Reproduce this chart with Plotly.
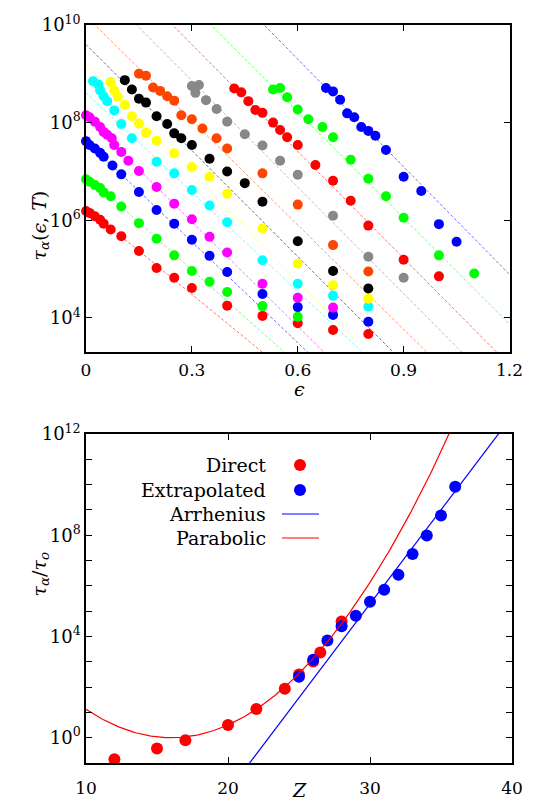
import numpy as np
import plotly.graph_objects as go

# ---------------- top panel data: (strain eps, log10 tau) per temperature series
COLORS = ["#ff0000", "#00ff00", "#0000ff", "#ff00ff", "#00ffff", "#ffff00",
          "#000000", "#ff4500", "#888888", "#ff0000", "#00ff00", "#0000ff"]

EPS_1 = [0, 0.01, 0.025, 0.04, 0.05, 0.07, 0.1, 0.15, 0.2, 0.25, 0.3, 0.4, 0.5, 0.6, 0.7, 0.8]
LOG_1 = [6.19, 6.15, 6.08, 6.01, 5.93, 5.81, 5.67, 5.37, 5.02, 4.82, 4.61, 4.25, 4.04, 3.89, 3.75, 3.67]
EPS_2 = [0, 0.01, 0.025, 0.04, 0.05, 0.07, 0.1, 0.15, 0.2, 0.25, 0.3, 0.35, 0.4, 0.5, 0.6]
LOG_2 = [6.84, 6.79, 6.72, 6.66, 6.57, 6.49, 6.28, 5.94, 5.62, 5.28, 4.96, 4.74, 4.53, 4.24, 4.02]
EPS_3 = [0, 0.01, 0.025, 0.04, 0.05, 0.075, 0.1, 0.15, 0.2, 0.25, 0.3, 0.35, 0.4, 0.5, 0.6, 0.7, 0.8]
LOG_3 = [7.62, 7.54, 7.47, 7.38, 7.30, 7.12, 6.94, 6.58, 6.21, 5.93, 5.60, 5.27, 4.94, 4.49, 4.22, 4.06, 3.92]
EPS_4 = [0, 0.01, 0.025, 0.04, 0.05, 0.06, 0.073, 0.08, 0.1, 0.12, 0.15, 0.2, 0.25, 0.3, 0.35, 0.4, 0.5, 0.6, 0.7]
LOG_4 = [8.15, 8.11, 8.02, 7.91, 7.81, 7.75, 7.68, 7.54, 7.40, 7.22, 7.01, 6.68, 6.34, 6.02, 5.66, 5.34, 4.70, 4.41, 4.21]
EPS_5 = [0.02, 0.035, 0.04, 0.05, 0.06, 0.08, 0.1, 0.13, 0.2, 0.25, 0.3, 0.35, 0.4, 0.5, 0.6, 0.7, 0.8]
LOG_5 = [8.85, 8.78, 8.66, 8.54, 8.44, 8.25, 7.97, 7.68, 7.20, 6.96, 6.62, 6.30, 5.96, 5.18, 4.70, 4.45, 4.23]
EPS_6 = [0.07, 0.08, 0.09, 0.11, 0.13, 0.15, 0.17, 0.2, 0.25, 0.3, 0.35, 0.4, 0.5, 0.6, 0.7, 0.8]
LOG_6 = [8.83, 8.66, 8.53, 8.36, 8.13, 7.98, 7.79, 7.63, 7.37, 7.09, 6.89, 6.54, 5.83, 5.11, 4.67, 4.39]
EPS_7 = [0.11, 0.13, 0.15, 0.17, 0.2, 0.23, 0.25, 0.27, 0.3, 0.35, 0.4, 0.45, 0.5, 0.6, 0.7, 0.8]
LOG_7 = [8.87, 8.68, 8.49, 8.41, 8.13, 7.97, 7.78, 7.68, 7.54, 7.26, 7.00, 6.76, 6.38, 5.57, 4.96, 4.60]
EPS_8 = [0.15, 0.17, 0.19, 0.21, 0.23, 0.25, 0.27, 0.3, 0.33, 0.37, 0.4, 0.5, 0.6, 0.7, 0.8]
LOG_8 = [9.00, 8.96, 8.72, 8.65, 8.54, 8.45, 8.15, 8.07, 7.88, 7.68, 7.47, 6.96, 6.32, 5.49, 4.95]
EPS_9 = [0.3, 0.31, 0.32, 0.34, 0.37, 0.4, 0.45, 0.5, 0.55, 0.6, 0.7, 0.8, 0.9]
LOG_9 = [8.75, 8.61, 8.77, 8.46, 8.28, 8.02, 7.76, 7.53, 7.22, 6.93, 6.09, 5.25, 4.82]
EPS_10 = [0.42, 0.44, 0.46, 0.48, 0.5, 0.53, 0.55, 0.57, 0.6, 0.65, 0.7, 0.75, 0.8, 0.9, 1.0]
LOG_10 = [8.70, 8.62, 8.44, 8.26, 8.20, 8.00, 7.85, 7.70, 7.54, 7.13, 6.81, 6.40, 5.89, 5.19, 4.85]
EPS_11 = [0.53, 0.55, 0.57, 0.6, 0.63, 0.67, 0.7, 0.75, 0.8, 0.85, 0.9, 1.0, 1.1]
LOG_11 = [8.68, 8.71, 8.52, 8.27, 8.07, 7.91, 7.70, 7.24, 6.85, 6.49, 6.05, 5.28, 4.91]
EPS_12 = [0.68, 0.7, 0.72, 0.74, 0.76, 0.78, 0.8, 0.82, 0.85, 0.9, 0.95, 1.0, 1.05]
LOG_12 = [8.71, 8.64, 8.47, 8.19, 8.11, 7.91, 7.83, 7.73, 7.44, 6.89, 6.60, 5.92, 5.56]

EPS_SETS = [EPS_1, EPS_2, EPS_3, EPS_4, EPS_5, EPS_6, EPS_7, EPS_8, EPS_9, EPS_10, EPS_11, EPS_12]
LOG_SETS = [LOG_1, LOG_2, LOG_3, LOG_4, LOG_5, LOG_6, LOG_7, LOG_8, LOG_9, LOG_10, LOG_11, LOG_12]

# dashed fit lines: log10 tau = FIT_A - FIT_B * eps
FIT_A = [6.26, 6.92, 7.63, 8.11, 8.61, 9.19, 9.60, 10.18, 11.04, 11.79, 12.57, 13.71]
FIT_B = [5.93, 6.45, 6.90, 7.14, 6.78, 7.40, 7.24, 7.13, 7.27, 7.30, 7.25, 7.35]

# ---------------- bottom panel data
Z_DIRECT = [12, 15, 17, 20, 22, 24, 25, 26, 26.5, 28]
LOG_DIRECT = [-0.85, -0.43, -0.10, 0.50, 1.13, 1.93, 2.50, 3.01, 3.37, 4.59]
Z_EXTRAP = [25, 26, 27, 28, 29, 30, 31, 32, 33, 34, 35, 36]
LOG_EXTRAP = [2.41, 3.08, 3.84, 4.40, 4.82, 5.37, 5.85, 6.44, 7.26, 7.99, 8.78, 9.92]
ARR_SLOPE, ARR_Z0 = 0.742, 22.87          # log10 tau = ARR_SLOPE*(Z-ARR_Z0)
PAR_A, PAR_Z0 = 0.0313, 16.0              # log10 tau = PAR_A*(Z-PAR_Z0)^2

# ---------------- layout geometry (pixels)
W, H = 535, 809
L, R, T, B = 86, 23, 25, 46
PW, PH = W - L - R, H - T - B


def px(x):
    return (x - L) / PW


def py(y):
    return (H - B - y) / PH


SERIF = "DejaVu Serif"
FS = 17
FT = 19

fig = go.Figure()

eps_line = np.array([0.0, 1.2])
for a, b, c in zip(FIT_A, FIT_B, COLORS):
    fig.add_trace(go.Scatter(x=eps_line, y=10 ** (a - b * eps_line), mode="lines",
                             line=dict(color=c, width=1, dash="3px,2px"), opacity=0.55,
                             xaxis="x", yaxis="y", hoverinfo="skip"))
for e, lg, c in zip(EPS_SETS, LOG_SETS, COLORS):
    fig.add_trace(go.Scatter(x=e, y=10 ** np.array(lg), mode="markers",
                             marker=dict(color=c, size=10, line=dict(width=0)),
                             cliponaxis=False, xaxis="x", yaxis="y"))

fig.add_trace(go.Scatter(x=Z_DIRECT, y=10 ** np.array(LOG_DIRECT), mode="markers",
                         marker=dict(color="#ff0000", size=12, line=dict(width=0)),
                         cliponaxis=False, xaxis="x2", yaxis="y2"))
fig.add_trace(go.Scatter(x=Z_EXTRAP, y=10 ** np.array(LOG_EXTRAP), mode="markers",
                         marker=dict(color="#0000ff", size=12, line=dict(width=0)),
                         cliponaxis=False, xaxis="x2", yaxis="y2"))
zz = np.linspace(10, 40, 301)
fig.add_trace(go.Scatter(x=zz, y=10 ** (ARR_SLOPE * (zz - ARR_Z0)), mode="lines",
                         line=dict(color="#0000ff", width=1.2), xaxis="x2", yaxis="y2"))
fig.add_trace(go.Scatter(x=zz, y=10 ** (PAR_A * (zz - PAR_Z0) ** 2), mode="lines",
                         line=dict(color="#ff0000", width=1.2), xaxis="x2", yaxis="y2"))

axis_common = dict(showgrid=False, zeroline=False, showline=True, linecolor="black",
                   linewidth=1.5, mirror="ticks", ticks="inside", ticklen=6,
                   tickwidth=1, tickcolor="black", automargin=False,
                   tickfont=dict(family=SERIF, size=FS, color="black"))
ytick_font = dict(family=SERIF, size=FS + 1, color="black")

top_dom = [py(352), 1.0]
bot_dom = [0.0, py(434)]

ytop_vals = [1e4, 1e6, 1e8, 1e10]
ytop_text = ["10<sup>4</sup>", "10<sup>6</sup>", "10<sup>8</sup>", "10<sup>10</sup>"]
ybot_vals = [1e0, 1e4, 1e8, 1e12]
ybot_text = ["10<sup>0</sup>", "10<sup>4</sup>", "10<sup>8</sup>", "10<sup>12</sup>"]
ybot_minor = [10.0 ** k for k in range(-1, 13) if k % 4 != 0]

fig.update_layout(
    width=W, height=H, margin=dict(l=L, r=R, t=T, b=B),
    paper_bgcolor="white", plot_bgcolor="white", showlegend=False,
    xaxis=dict(axis_common, domain=[0, px(509.5)], range=[0, 1.2], anchor="y",
               tickvals=[0, 0.3, 0.6, 0.9, 1.2], ticktext=["0", "0.3", "0.6", "0.9", "1.2"],
               ticklabelstandoff=2),
    yaxis=dict(axis_common, domain=top_dom, type="log", range=[3.3, 10.0], anchor="x",
               tickvals=ytop_vals, ticktext=ytop_text, tickfont=ytick_font),
    xaxis2=dict(axis_common, domain=[0, 1], range=[10, 40], anchor="y2",
                tickvals=[10, 20, 30, 40], ticktext=["10", "20", "30", "40"],
                ticklabelstandoff=9),
    yaxis2=dict(axis_common, domain=bot_dom, type="log", range=[-1, 12], anchor="x2",
                tickvals=ybot_vals, ticktext=ybot_text, tickfont=ytick_font,
                minor=dict(tickvals=ybot_minor, ticks="inside", ticklen=6,
                           tickwidth=1, tickcolor="black", showgrid=False)),
)

ann = []
ann.append(dict(x=px(25), y=py(188), xref="paper", yref="paper", textangle=-90,
                text="<i>τ</i><sub><i>α</i></sub>(<i>ϵ</i>, <i>T</i>)", showarrow=False,
                font=dict(family=SERIF, size=FT, color="black")))
ann.append(dict(x=px(299), y=py(389), xref="paper", yref="paper", text="<i>ϵ</i>",
                showarrow=False, font=dict(family=SERIF, size=FT, color="black")))
ann.append(dict(x=px(25), y=py(598), xref="paper", yref="paper", textangle=-90,
                text="<i>τ</i><sub><i>α</i></sub>/<i>τ</i><sub><i>o</i></sub>", showarrow=False,
                font=dict(family=SERIF, size=FT, color="black")))
ann.append(dict(x=px(299), y=py(803), xref="paper", yref="paper", text="<i>Z</i>",
                showarrow=False, font=dict(family=SERIF, size=FT, color="black")))

legend_rows = [("Direct", 465), ("Extrapolated", 490), ("Arrhenius", 514), ("Parabolic", 538)]
for txt, yy in legend_rows:
    ann.append(dict(x=px(268), y=py(yy), xref="paper", yref="paper", text=txt,
                    xanchor="right", yanchor="middle", showarrow=False,
                    font=dict(family=SERIF, size=FT, color="black")))
fig.update_layout(annotations=ann)

shapes = []
for yy, c in [(465, "#ff0000"), (490, "#0000ff")]:
    shapes.append(dict(type="circle", xref="paper", yref="paper",
                       x0=px(294), x1=px(306), y0=py(yy + 6), y1=py(yy - 6),
                       fillcolor=c, line=dict(width=0)))
for yy, c in [(514, "#0000ff"), (538, "#ff0000")]:
    shapes.append(dict(type="line", xref="paper", yref="paper",
                       x0=px(282), x1=px(319), y0=py(yy), y1=py(yy),
                       line=dict(color=c, width=1.2)))
fig.update_layout(shapes=shapes)

fig.write_html("out.html", config={"displayModeBar": False},
               post_script="document.body.style.margin='0px';document.body.style.overflow='hidden';")
